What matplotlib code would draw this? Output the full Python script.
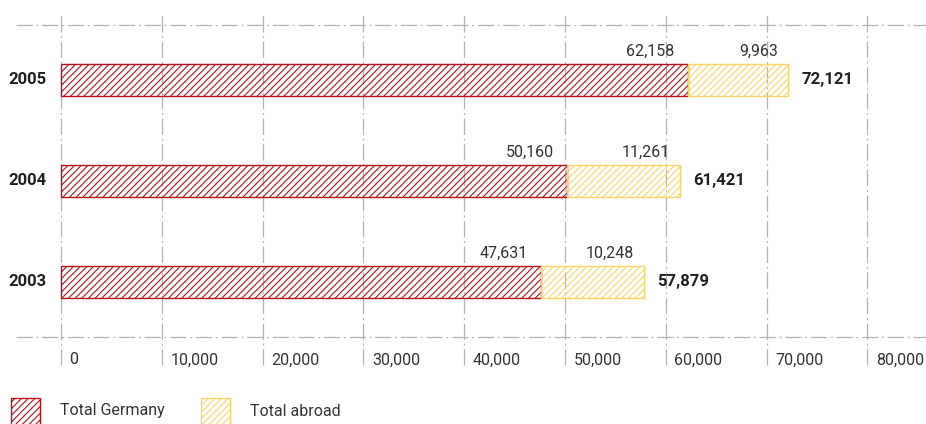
import matplotlib
matplotlib.use('Agg')
import matplotlib.pyplot as plt
from matplotlib.patches import Rectangle

years = ['2003', '2004', '2005']
germany = [47631, 50160, 62158]
abroad = [10248, 11261, 9963]
totals = [57879, 61421, 72121]
ticks = [0, 10000, 20000, 30000, 40000, 50000, 60000, 70000, 80000]
tick_labels = ['0', '10,000', '20,000', '30,000', '40,000', '50,000', '60,000', '70,000', '80,000']
series_names = ['Total Germany', 'Total abroad']

red = '#b5121b'
yellow = '#fbd46a'
grid_col = '#b3b3b3'
txt = '#333333'
dark = '#231f20'
hatch = '/////'

plt.rcParams['font.family'] = ['Roboto', 'DejaVu Sans']
plt.rcParams['hatch.linewidth'] = 0.8

fig = plt.figure(figsize=(9.26, 4.24), dpi=100)
ax = fig.add_axes([0, 0, 1, 1])
ax.set_xlim(-6052, 85813)
ax.set_ylim(-1.406, 2.792)
ax.axis('off')

dash = (0, (13, 3, 1.5, 3))
for t, lab in zip(ticks, tick_labels):
    ax.plot([t, t], [-0.822, 2.673], color=grid_col, lw=0.9, ls=dash, zorder=0)
    ax.text(t + 850, -0.772, lab, ha='left', va='center', fontsize=11.5, color=txt)
for yy in [-0.545, 2.545]:
    ax.plot([-4464, 85813], [yy, yy], color=grid_col, lw=0.9, ls=dash, zorder=0)

pos = list(range(len(years)))
h = 0.31
ax.barh(pos, germany, height=h, facecolor='none', edgecolor=red, hatch=hatch, lw=1.0)
ax.barh(pos, abroad, left=germany, height=h, facecolor='none', edgecolor=yellow, hatch=hatch, lw=1.0)

for i, y in enumerate(years):
    ax.text(-1400, i, y, ha='right', va='center', fontsize=12, fontweight='bold', color=dark)
    ax.text(germany[i] - 1300, i + h / 2 + 0.05, f'{germany[i]:,}', ha='right', va='bottom',
            fontsize=11.5, color=txt)
    ax.text(totals[i] - 1000, i + h / 2 + 0.05, f'{abroad[i]:,}', ha='right', va='bottom',
            fontsize=11.5, color=txt)
    ax.text(totals[i] + 1300, i, f'{totals[i]:,}', ha='left', va='center',
            fontsize=12, fontweight='bold', color=dark)

# legend
for x0, col, name in [(11, red, series_names[0]), (201, yellow, series_names[1])]:
    fig.patches.append(Rectangle((x0 / 926, -0.02), 29 / 926, 26 / 424 + 0.02,
                                 transform=fig.transFigure, facecolor='none',
                                 edgecolor=col, hatch=hatch, lw=1.0))
    fig.text((x0 + 49) / 926, 1 - 411 / 424, name, ha='left', va='center',
             fontsize=11.5, color=txt)

fig.savefig('out.png', dpi=100)
